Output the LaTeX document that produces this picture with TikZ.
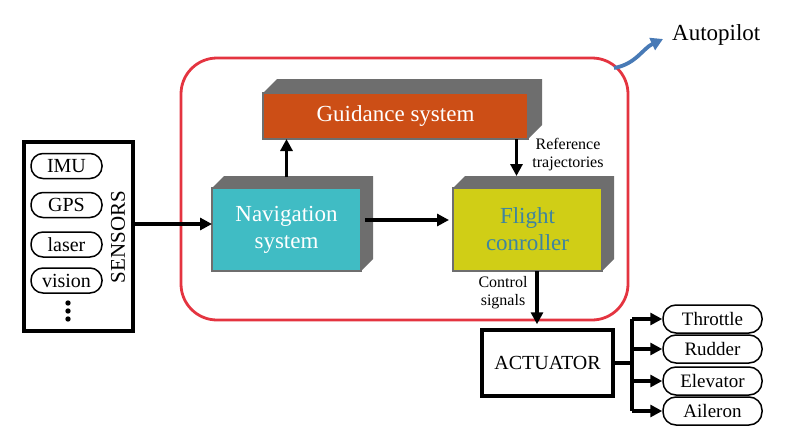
\documentclass[tikz,border=0pt]{standalone}
\usepackage{fontspec}
\setmainfont{Liberation Serif}
\usetikzlibrary{arrows.meta,calc}
\definecolor{redline}{RGB}{228,52,64}
\definecolor{guidcol}{RGB}{204,78,22}
\definecolor{navcol}{RGB}{64,188,196}
\definecolor{fltcol}{RGB}{208,206,22}
\definecolor{flttext}{RGB}{62,132,160}
\definecolor{shadecol}{RGB}{110,110,110}
\definecolor{apblue}{RGB}{72,122,182}
\tikzset{
  fs/.style 2 args={font=\fontsize{#1}{#2}\selectfont},
  face/.style={draw=shadecol,line width=1.5pt,inner sep=0pt,outer sep=0pt,align=center},
  pill/.style={draw,line width=1.5pt,rounded corners=12pt,inner sep=0pt,minimum width=71pt,minimum height=25pt,fs={20}{23}},
  apill/.style={draw,line width=1.5pt,rounded corners=13pt,inner sep=0pt,minimum width=99pt,minimum height=28pt,fs={19}{22}},
  arr/.style={line width=3.2pt,-{Triangle[length=12pt,width=12pt]}},
  conn/.style={line width=3.2pt},
  lbl/.style={fs={16}{18},align=center,inner sep=0pt},
}
\begin{document}
\begin{tikzpicture}[x=1pt,y=-1pt]
\useasboundingbox (0,0) rectangle (797,447);
% autopilot frame
\node[draw=redline,line width=2.8pt,rounded corners=36pt,minimum width=447pt,minimum height=262pt,inner sep=0pt] (auto) at (404.5,189) {};
\coordinate (apstart) at (614,68);
\node[fs={23}{27},anchor=west,inner sep=0pt] (aptext) at (672,35) {Autopilot};
\draw[apblue,line width=3.8pt,-{Triangle[length=12pt,width=13pt]}] (apstart) to[out=10,in=205] ([xshift=-9pt,yshift=-4pt]aptext.west);
% sensors
\node[draw,line width=3.5pt,minimum width=109pt,minimum height=189pt,inner sep=0pt] (sens) at (78.5,236.5) {};
\node[pill] (imu) at (66.5,166) {IMU};
\node[pill] (gps) at (66.5,205) {GPS};
\node[pill] (laser) at (66.5,244.5) {laser};
\node[pill] (vision) at (66.5,280.5) {vision};
\fill (68,303) circle (2.7) (68,311) circle (2.7) (68,319) circle (2.7);
\node[fs={21}{24},rotate=90,inner sep=0pt] (senslbl) at (118,237) {SENSORS};
% guidance
\node[face,fill=guidcol,minimum width=265pt,minimum height=46pt] (guid) at (395.5,116) {};
\fill[shadecol] (guid.north west) -- ++(14,-14) -- ([shift={(14,-14)}]guid.north east) -- ([shift={(14,-14)}]guid.south east) -- (guid.south east) -- cycle;
\node[face,fill=guidcol,minimum width=265pt,minimum height=46pt,text=white,fs={23}{27}] (guidf) at (guid) {Guidance system};
% navigation
\node[face,fill=navcol,minimum width=149pt,minimum height=83pt] (nav) at (286.5,229.5) {};
\fill[shadecol] (nav.north west) -- ++(12,-12) -- ([shift={(12,-12)}]nav.north east) -- ([shift={(12,-12)}]nav.south east) -- (nav.south east) -- cycle;
\node[face,fill=navcol,minimum width=149pt,minimum height=83pt,text=white,fs={23}{27}] (navf) at (nav) {Navigation\\system};
% flight controller
\node[face,fill=fltcol,minimum width=149pt,minimum height=83pt] (flt) at (527.5,229.5) {};
\fill[shadecol] (flt.north west) -- ++(12,-12) -- ([shift={(12,-12)}]flt.north east) -- ([shift={(12,-12)}]flt.south east) -- (flt.south east) -- cycle;
\node[face,fill=fltcol,minimum width=149pt,minimum height=83pt,text=flttext,fs={23}{27}] (fltf) at (flt) {Flight\\conroller};
% actuator
\node[draw,line width=3.5pt,minimum width=131pt,minimum height=66pt,inner sep=0pt,fs={20}{23}] (act) at (547.5,363) {ACTUATOR};
\node[apill] (thr) at (712.5,319) {Throttle};
\node[apill] (rud) at (712.5,349) {Rudder};
\node[apill] (ele) at (712.5,381) {Elevator};
\node[apill] (ail) at (712.5,411) {Aileron};
\coordinate (br) at (632,363);
% connectors
\coordinate (sensin) at ([yshift=5.5pt]nav.west);
\draw[arr] (sensin -| sens.east) -- (sensin);
\draw[arr] ([yshift=11pt]nav.north) -- (nav.north |- guid.south);
\draw[arr] ([xshift=-11pt]flt.north |- guid.south) -- ([xshift=-11pt,yshift=12pt]flt.north);
\draw[arr] ([xshift=4pt,yshift=9.5pt]nav.east) -- ([xshift=-4pt,yshift=9.5pt]flt.west);
\draw[arr,shorten >=4pt] ([xshift=9.5pt]flt.south) -- ([xshift=9.5pt]flt.south |- act.north);
\node[lbl] (reflbl) at (568,155) {Reference\\trajectories};
\node[lbl] (ctllbl) at (503,293) {Control\\signals};
\draw[conn] (act.east) -- (br);
\draw[conn] (br |- thr.west) -- (br |- ail.west);
\draw[arr] (br |- thr.west) -- (thr.west);
\draw[arr] (br |- rud.west) -- (rud.west);
\draw[arr] (br |- ele.west) -- (ele.west);
\draw[arr] (br |- ail.west) -- (ail.west);
\end{tikzpicture}
\end{document}
